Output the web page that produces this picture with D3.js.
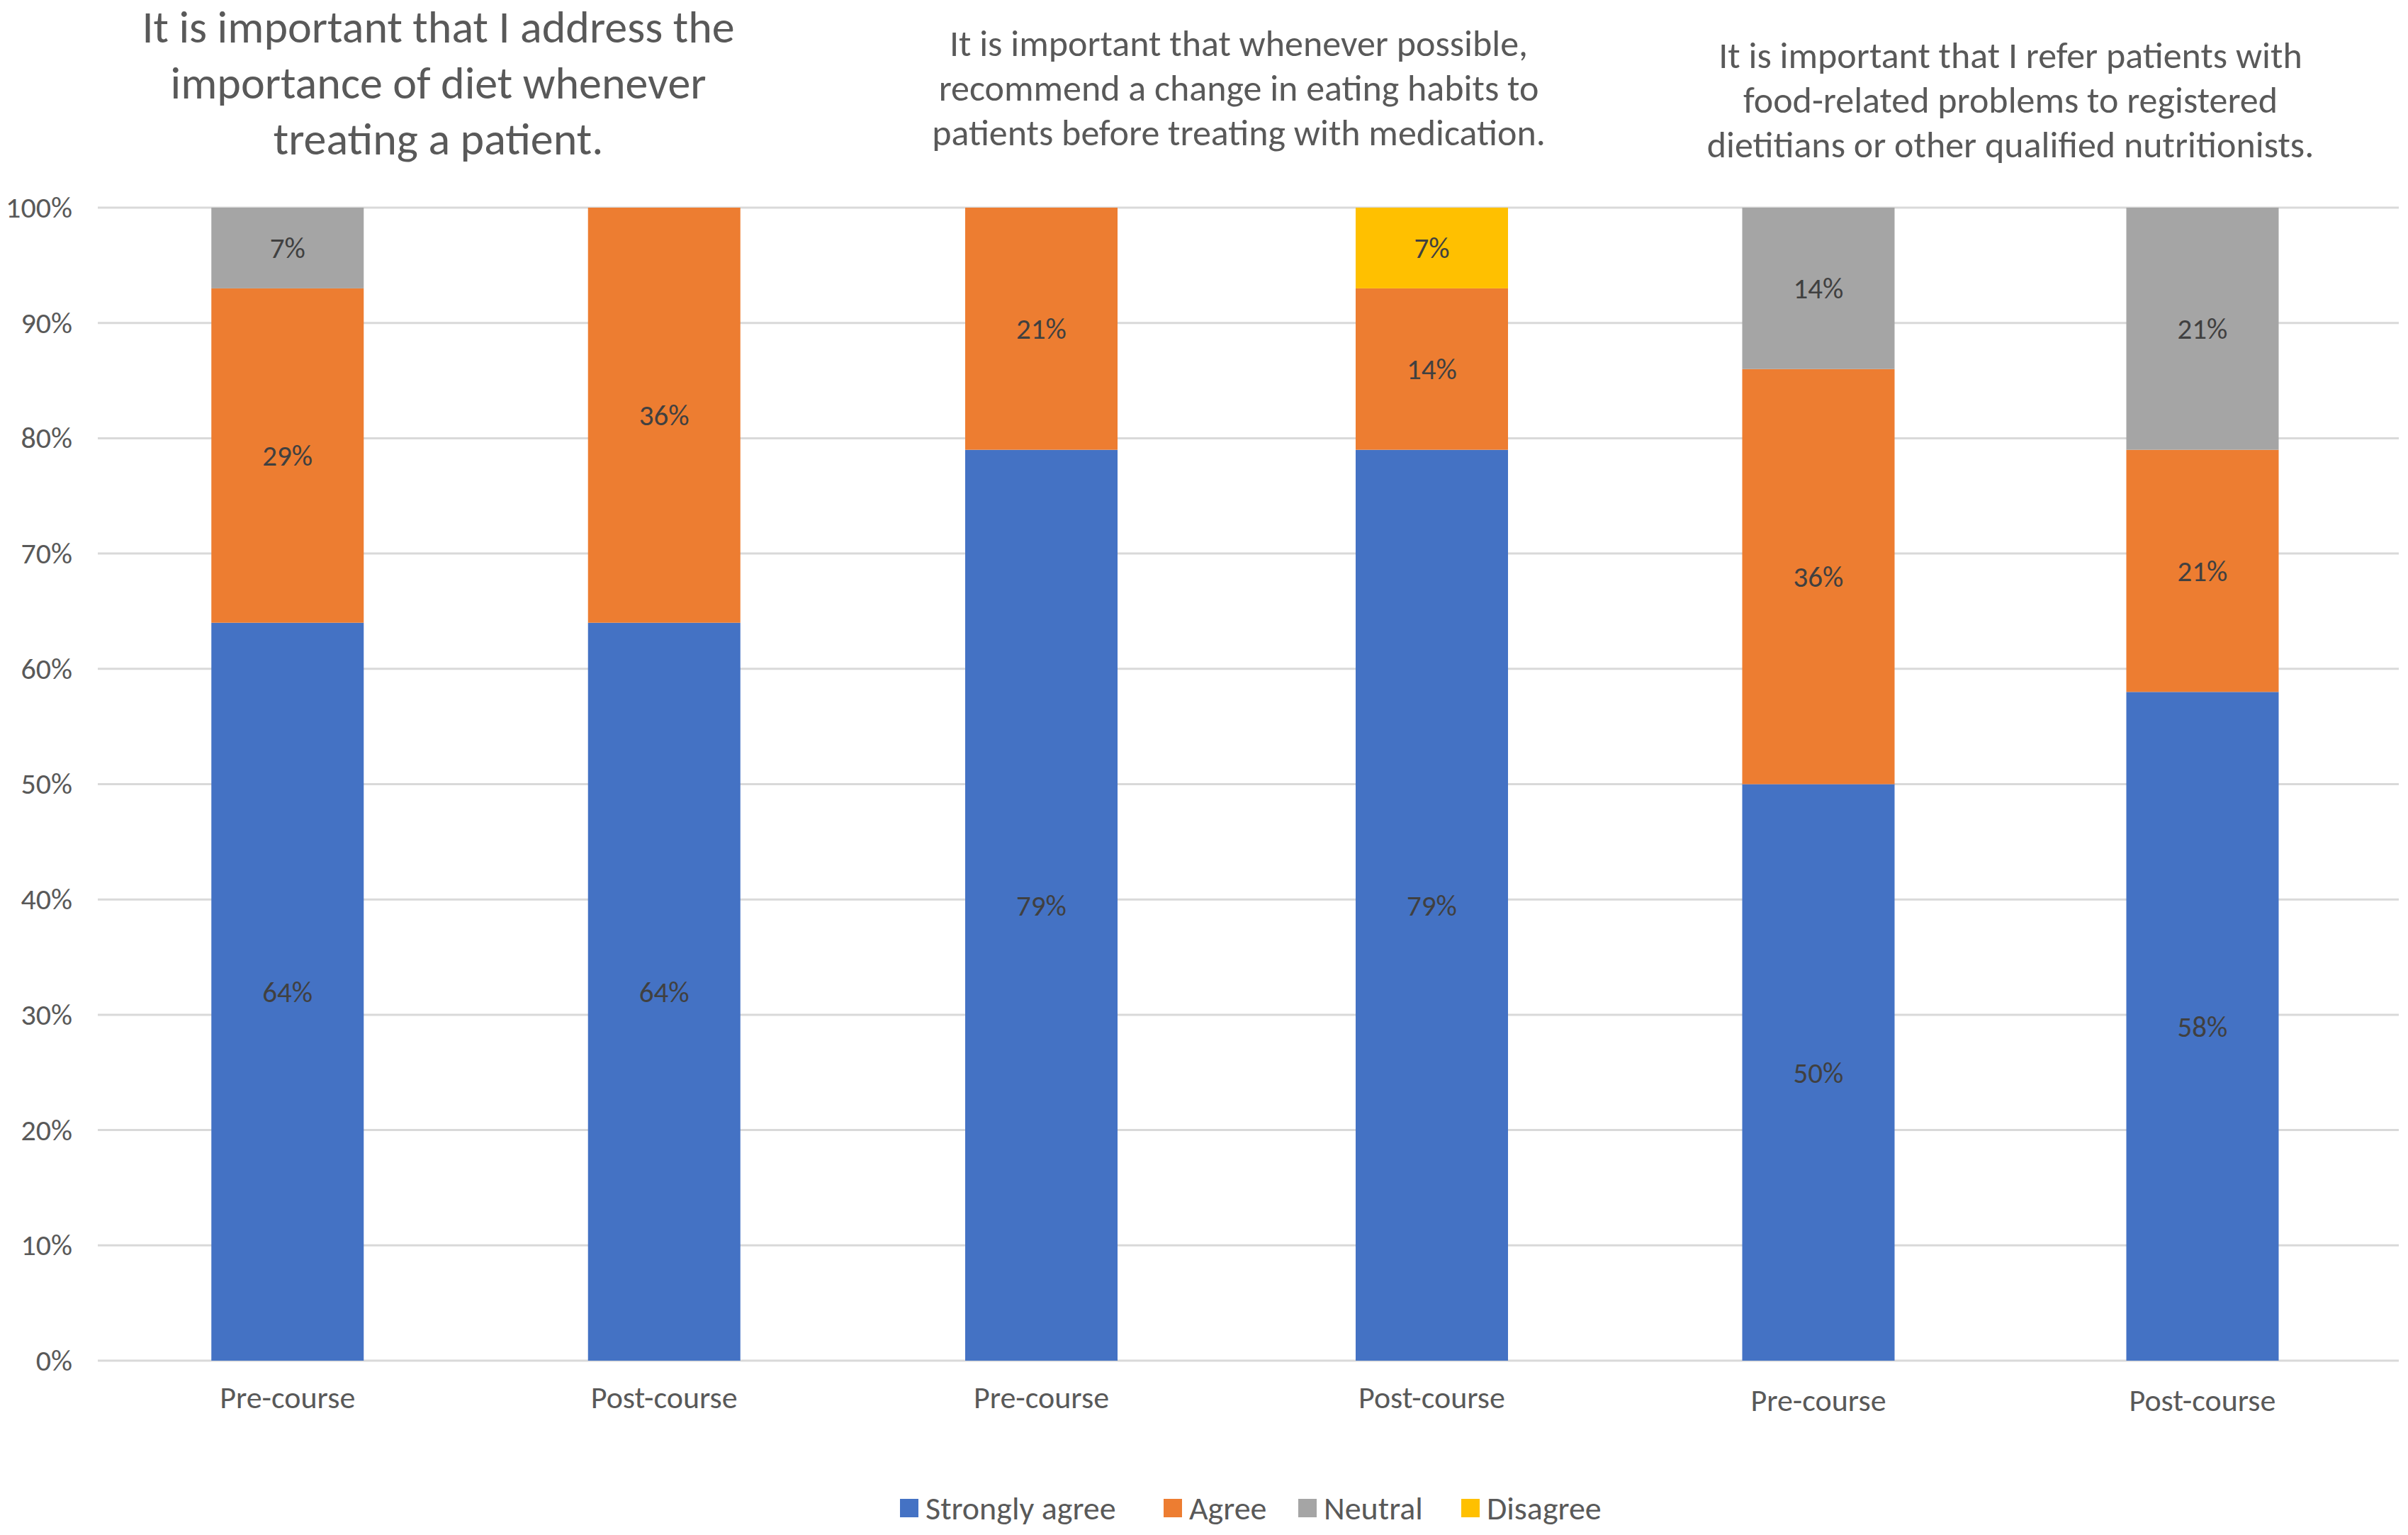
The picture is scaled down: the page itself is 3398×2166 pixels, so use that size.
<!DOCTYPE html>
<html>
<head>
<meta charset="utf-8">
<script src="https://cdn.jsdelivr.net/npm/d3@7"></script>
<style>
  html, body { margin: 0; padding: 0; background: #fff; }
  svg { display: block; font-family: Carlito, Lato, "Open Sans", sans-serif; }
</style>
</head>
<body>
<svg id="chart"></svg>
<script>
// chart values
const categories = ["Pre-course", "Post-course", "Pre-course", "Post-course", "Pre-course", "Post-course"];
const seriesNames = ["Strongly agree", "Agree", "Neutral", "Disagree"];
const stronglyAgree = [64, 64, 79, 79, 50, 58];
const agree        = [29, 36, 21, 14, 36, 21];
const neutral      = [7, 0, 0, 0, 14, 21];
const disagree     = [0, 0, 0, 7, 0, 0];
const yTicks = [0, 10, 20, 30, 40, 50, 60, 70, 80, 90, 100];
const titles = [
  ["It is important that I address the", "importance of diet whenever", "treating a patient."],
  ["It is important that whenever possible,", "recommend a change in eating habits to", "patients before treating with medication."],
  ["It is important that I refer patients with", "food-related problems to registered", "dietitians or other qualified nutritionists."]
];

const W = 3398, H = 2166;
const colors = ["#4472C4", "#ED7D31", "#A5A5A5", "#FFC000"];
const textColor = "#595959";
const barWidth = 215;
// the figure is three charts side by side, each with its own x range
const panelRanges = [[140, 1203], [1194, 2296], [2295, 3379]];

const svg = d3.select("#chart").attr("width", W).attr("height", H);

const rows = categories.map((c, i) => ({
  key: i, label: c, panel: Math.floor(i / 2),
  "Strongly agree": stronglyAgree[i],
  "Agree": agree[i],
  "Neutral": neutral[i],
  "Disagree": disagree[i]
}));
const stacked = d3.stack().keys(seriesNames)(rows);

const xs = panelRanges.map((r, p) => {
  const step = (r[1] - r[0]) / 2;
  const pad = 1 - barWidth / step;
  return d3.scaleBand()
    .domain(rows.filter(d => d.panel === p).map(d => d.key))
    .range(r).paddingInner(pad).paddingOuter(pad / 2);
});
const xOf = i => xs[Math.floor(i / 2)](i);
const bw = i => xs[Math.floor(i / 2)].bandwidth();

const y = d3.scaleLinear().domain([0, 100]).range([1920, 293]);
const color = d3.scaleOrdinal().domain(seriesNames).range(colors);

// gridlines
svg.append("g")
  .selectAll("line")
  .data(yTicks)
  .join("line")
  .attr("x1", 138).attr("x2", 3385)
  .attr("y1", d => y(d)).attr("y2", d => y(d))
  .attr("stroke", "#D9D9D9")
  .attr("stroke-width", 3);

// y axis labels
const yAxis = d3.axisLeft(y).tickValues(yTicks).tickFormat(d => d + "%").tickSize(0).tickPadding(0);
const gy = svg.append("g").attr("transform", "translate(102,0)").call(yAxis)
  .attr("font-family", null).attr("font-size", null);
gy.select(".domain").remove();
gy.selectAll("text").attr("fill", textColor).style("font-size", "42px");

// bars
const layer = svg.append("g").selectAll("g")
  .data(stacked)
  .join("g")
  .attr("fill", d => color(d.key));

layer.selectAll("rect")
  .data(d => d.filter(s => s[1] - s[0] > 0))
  .join("rect")
  .attr("x", d => xOf(d.data.key))
  .attr("width", d => bw(d.data.key))
  .attr("y", d => y(d[1]))
  .attr("height", d => y(d[0]) - y(d[1]));

// data labels
svg.append("g").selectAll("g")
  .data(stacked)
  .join("g")
  .selectAll("text")
  .data(d => d.filter(s => s[1] - s[0] > 0))
  .join("text")
  .attr("x", d => xOf(d.data.key) + bw(d.data.key) / 2)
  .attr("y", d => y((d[0] + d[1]) / 2))
  .attr("dy", "0.35em")
  .attr("text-anchor", "middle")
  .attr("fill", "#404040")
  .style("font-size", "41px")
  .text(d => (d[1] - d[0]) + "%");

// category labels, one axis per panel
const labelY = [1972, 1972, 1976];
xs.forEach((sc, p) => {
  const gx = svg.append("g")
    .attr("transform", `translate(0,${labelY[p]})`)
    .call(d3.axisBottom(sc).tickFormat(i => categories[i]).tickSize(0).tickPadding(0))
    .attr("font-family", null).attr("font-size", null);
  gx.select(".domain").remove();
  gx.selectAll("text").attr("dy", "0.35em").attr("fill", textColor).style("font-size", "44px");
});

// panel titles
const titleStyle = [
  { size: 64, y0: 60, lh: 79, dx: -53 },
  { size: 52, y0: 79, lh: 63, dx: 3 },
  { size: 52, y0: 96, lh: 63, dx: 0 }
];
titles.forEach((lines, p) => {
  const st = titleStyle[p];
  const sc = xs[p];
  const d0 = sc.domain();
  const cx = (sc(d0[0]) + sc(d0[1]) + sc.bandwidth()) / 2 + st.dx;
  svg.append("text")
    .attr("text-anchor", "middle")
    .attr("fill", textColor)
    .style("font-size", st.size + "px")
    .selectAll("tspan")
    .data(lines)
    .join("tspan")
    .attr("x", cx)
    .attr("y", (d, i) => st.y0 + i * st.lh)
    .text(d => d);
});

// legend
const legendX = [1270, 1642, 1832, 2062];
const lg = svg.append("g").selectAll("g")
  .data(seriesNames)
  .join("g")
  .attr("transform", (d, i) => `translate(${legendX[i]},2128)`);
lg.append("rect")
  .attr("x", 0).attr("y", -13)
  .attr("width", 26).attr("height", 26)
  .attr("fill", d => color(d));
lg.append("text")
  .attr("x", 36)
  .attr("dy", "0.35em")
  .attr("fill", textColor)
  .style("font-size", "46px")
  .text(d => d);
</script>
</body>
</html>
